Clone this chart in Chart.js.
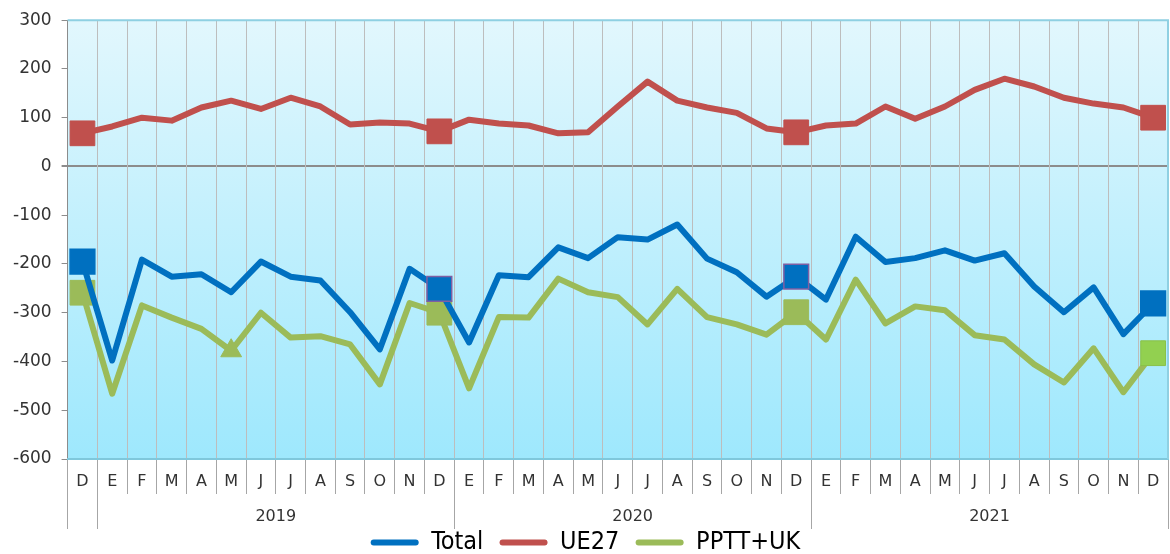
<!DOCTYPE html>
<html>
<head>
  <title>Saldo mensual</title>
  <script src="https://cdn.jsdelivr.net/npm/chart.js"></script>
  <style>
    html, body { margin: 0; background: #fff; overflow: hidden; }
    #wrap { width: 1170px; height: 554px; }
    canvas { display: block; }
  </style>
</head>
<body>
  <div id="wrap"><canvas id="chart"></canvas></div>
  <script>
    // month initials, Dec 2018 .. Dec 2021
    const months = ['D','E','F','M','A','M','J','J','A','S','O','N','D',
                    'E','F','M','A','M','J','J','A','S','O','N','D',
                    'E','F','M','A','M','J','J','A','S','O','N','D'];
    const years = ['2019', '2020', '2021'];
    const yearCenters = [6.5, 18.5, 30.5];
    const yearBounds = [-0.5, 0.5, 12.5, 24.5, 36.5];

    const total = [-195,-398,-191,-226,-221,-258,-195,-226,-234,-299,-375,-210,-251,
                   -361,-223,-227,-166,-188,-145,-150,-119,-189,-217,-267,-226,
                   -273,-144,-196,-188,-172,-193,-178,-246,-299,-248,-344,-281];
    const ue27 = [68,82,100,94,121,135,118,141,123,86,90,88,72,
                  96,88,84,68,70,123,174,135,121,110,78,70,
                  84,88,123,98,123,157,180,164,141,129,121,100];
    const pptt = [-259,-466,-285,-310,-333,-378,-300,-351,-348,-365,-447,-280,-300,
                  -455,-309,-310,-230,-258,-268,-324,-251,-309,-324,-345,-299,
                  -355,-232,-322,-287,-295,-346,-355,-406,-443,-373,-463,-383];

    const markIdx = [0, 12, 24, 36];

    function radii(extra) {
      return months.map((m, i) => markIdx.includes(i) ? 17.5 : (extra && extra[i] ? extra[i] : 0));
    }

    const noSidePad = s => { s.paddingLeft = 0; s.paddingRight = 0; };

    const bgPlugin = {
      id: 'bg',
      beforeDraw(chart) {
        const { ctx, chartArea: a } = chart;
        const g = ctx.createLinearGradient(0, a.top, 0, a.bottom);
        g.addColorStop(0, '#e2f7fd');
        g.addColorStop(1, '#9ee8fd');
        ctx.save();
        ctx.fillStyle = g;
        ctx.fillRect(a.left, a.top, a.right - a.left, a.bottom - a.top);
        ctx.restore();
      },
      beforeDatasetsDraw(chart) {
        const { ctx, chartArea: a } = chart;
        ctx.save();
        ctx.strokeStyle = '#8fd0e2';
        ctx.lineWidth = 2;
        ctx.beginPath();
        ctx.moveTo(a.left, a.top);
        ctx.lineTo(a.right, a.top);
        ctx.lineTo(a.right, a.bottom);
        ctx.stroke();
        ctx.restore();
      }
    };

    new Chart(document.getElementById('chart'), {
      type: 'line',
      data: {
        labels: months,
        datasets: [
          {
            label: 'Total', data: total,
            borderColor: '#0070c0', backgroundColor: '#0070c0', borderWidth: 6,
            pointRadius: radii(), pointStyle: 'rect',
            pointBackgroundColor: '#0070c0',
            pointBorderColor: months.map((m, i) => (i === 12 || i === 24) ? '#7f5fa3' : '#0070c0'),
            pointBorderWidth: 1.5
          },
          {
            label: 'UE27', data: ue27,
            borderColor: '#c0504d', backgroundColor: '#c0504d', borderWidth: 6,
            pointRadius: radii(), pointStyle: 'rect',
            pointBackgroundColor: '#c0504d', pointBorderColor: '#c0504d', pointBorderWidth: 1
          },
          {
            label: 'PPTT+UK', data: pptt,
            borderColor: '#9bbb59', backgroundColor: '#9bbb59', borderWidth: 6,
            pointRadius: radii({ 5: 12 }),
            pointStyle: months.map((m, i) => i === 5 ? 'triangle' : 'rect'),
            pointBackgroundColor: months.map((m, i) => i === 36 ? '#92d050' : '#9bbb59'),
            pointBorderColor: months.map((m, i) => i === 36 ? '#8ac048' : '#9bbb59'),
            pointBorderWidth: 1
          }
        ]
      },
      options: {
        responsive: true,
        maintainAspectRatio: false,
        animation: false,
        layout: { autoPadding: false, padding: { top: 10, left: 3, right: 2, bottom: -11 } },
        elements: { line: { tension: 0, borderJoinStyle: 'round', borderCapStyle: 'round' } },
        scales: {
          y: {
            min: -600, max: 300,
            ticks: { stepSize: 100, color: '#333', padding: 10, font: { family: 'DejaVu Sans', size: 17 } },
            grid: {
              color: c => c.tick && c.tick.value === 0 ? '#8c8c8c' : 'rgba(0,0,0,0)',
              lineWidth: c => c.tick && c.tick.value === 0 ? 2 : 1,
              tickColor: '#8c8c8c', tickLength: 6
            },
            border: { color: '#8c8c8c', width: 1 }
          },
          x: {
            offset: true,
            afterFit: s => { s.height = 35; noSidePad(s); },
            ticks: { color: '#333', padding: -22, autoSkip: false, maxRotation: 0,
                     font: { family: 'DejaVu Sans', size: 16 } },
            grid: { offset: true, color: '#bdbdbd', tickColor: '#a6a6a6', tickLength: 35 },
            border: { color: '#7fc8dc', width: 2 }
          },
          x2: {
            type: 'linear', position: 'bottom',
            min: -0.5, max: 36.5,
            afterFit: s => { s.height = 34; noSidePad(s); },
            afterBuildTicks: s => { s.ticks = yearBounds.concat(yearCenters).sort((a, b) => a - b).map(v => ({ value: v })); },
            ticks: {
              autoSkip: false, maxRotation: 0, color: '#333', padding: -22,
              font: { family: 'DejaVu Sans', size: 16 },
              callback: v => { const k = yearCenters.indexOf(v); return k >= 0 ? years[k] : ''; }
            },
            grid: {
              drawOnChartArea: false, tickLength: 35,
              tickColor: c => yearBounds.includes(c.tick.value) ? '#a6a6a6' : 'rgba(0,0,0,0)'
            },
            border: { display: false }
          }
        },
        plugins: {
          tooltip: { enabled: false },
          legend: {
            position: 'bottom',
            labels: {
              boxWidth: 48, boxHeight: 6, padding: 2, color: '#000',
              useBorderRadius: true, borderRadius: 3,
              font: { family: "'DejaVu Sans Condensed', 'DejaVu Sans'", size: 25 },
              generateLabels: chart => Chart.defaults.plugins.legend.labels.generateLabels(chart)
                .map((l, i, all) => Object.assign(l, { lineWidth: 0, text: i < all.length - 1 ? l.text + '  ' : l.text }))
            }
          }
        }
      },
      plugins: [bgPlugin]
    });
  </script>
</body>
</html>
